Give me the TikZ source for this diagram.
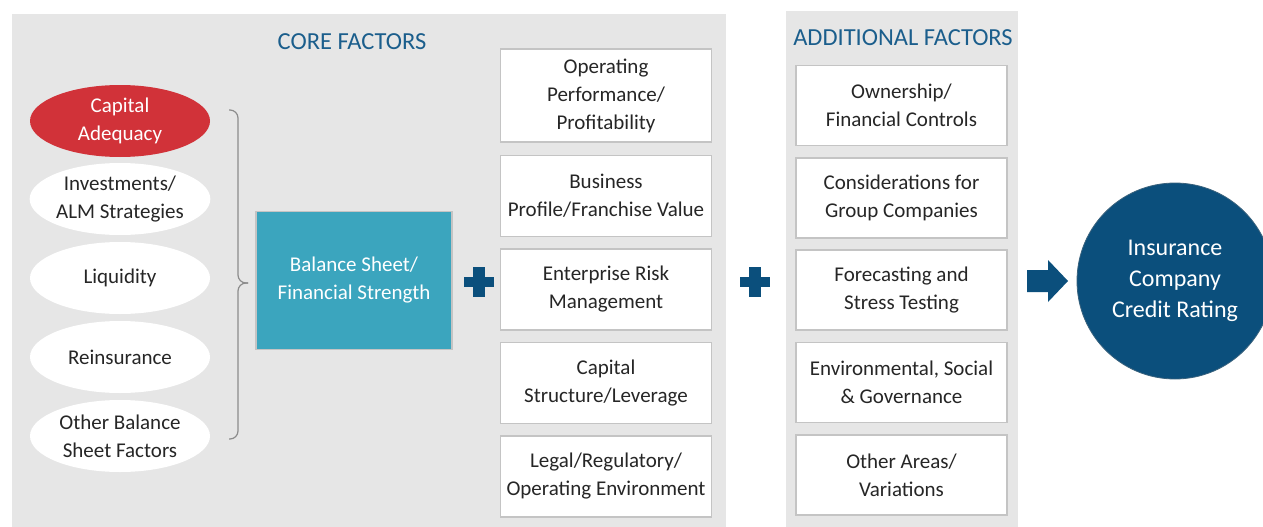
\documentclass[tikz,border=0pt]{standalone}
\usepackage{fontspec}
\setmainfont{Carlito}
\usepackage{xcolor}
\usetikzlibrary{shapes.geometric}

\definecolor{panelgrey}{HTML}{E6E6E6}
\definecolor{boxline}{HTML}{C4C4C4}
\definecolor{capred}{HTML}{D13239}
\definecolor{balteal}{HTML}{3BA5BE}
\definecolor{ratingblue}{HTML}{0B4F7C}
\definecolor{titleblue}{HTML}{1B5E8C}
\definecolor{textgrey}{HTML}{262626}
\definecolor{bracegrey}{HTML}{8C8C8C}

\begin{document}
\begin{tikzpicture}[x=1pt, y=-1pt,
    txt/.style={text=textgrey, align=center, font=\fontsize{21}{28}\selectfont},
    factor/.style={txt, ellipse, fill=white, minimum width=180pt, minimum height=72pt, inner sep=0pt},
    factorbox/.style={txt, draw=boxline, line width=1.5pt, fill=white, minimum width=211pt, minimum height=81pt, inner sep=0pt},
    title/.style={text=titleblue, font=\fontsize{24.5}{28}\selectfont}]
    \useasboundingbox (0,0) rectangle (1263,527);

    % grey panels for the two groups
    \fill[panelgrey] (12,14) rectangle (726,527);
    \fill[panelgrey] (786,11) rectangle (1018,527);
    \node[title] (core) at (352,42) {CORE FACTORS};
    \node[title] (extra) at (903,38) {ADDITIONAL FACTORS};

    % balance sheet factors
    \node[factor, fill=capred, text=white] (capital) at (120,121) {Capital\\Adequacy};
    \node[factor] (invest) at (120,199) {Investments/\\ALM Strategies};
    \node[factor] (liquid) at (120,278) {Liquidity};
    \node[factor] (reins) at (120,357) {Reinsurance};
    \node[factor] (other) at (120,436) {Other Balance\\Sheet Factors};

    % brace
    \draw[bracegrey, line width=1.2pt, rounded corners=8pt]
        (229,110) -| (238,283) -- (248,283);
    \draw[bracegrey, line width=1.2pt, rounded corners=8pt]
        (229,439) -| (238,283) -- (248,283);

    \node[txt, text=white, fill=balteal, draw=boxline, line width=1.5pt,
        minimum width=196pt, minimum height=138pt] (balance) at (354,280.5)
        {Balance Sheet/\\Financial Strength};

    % plus signs
    \foreach \x in {479,755} {
        \fill[ratingblue] (\x-15,277) rectangle (\x+15,287);
        \fill[ratingblue] (\x-6,267) rectangle (\x+6,297);
    }

    % other core factors
    \node[factorbox, minimum height=93pt] (operating) at (606,95.5)
        {Operating\\Performance/\\Profitability};
    \node[factorbox] (business) at (606,196) {Business\\Profile/Franchise Value};
    \node[factorbox] (erm) at (606,289.5) {Enterprise Risk\\Management};
    \node[factorbox] (capstruct) at (606,383) {Capital\\Structure/Leverage};
    \node[factorbox] (legal) at (606,476.5) {Legal/Regulatory/\\Operating Environment};

    % additional factors
    \node[factorbox, minimum height=80pt] (owner) at (901.5,105.5) {Ownership/\\Financial Controls};
    \node[factorbox, minimum height=80pt] (group) at (901.5,198) {Considerations for\\Group Companies};
    \node[factorbox, minimum height=80pt] (stress) at (901.5,290) {Forecasting and\\Stress Testing};
    \node[factorbox, minimum height=80pt] (esg) at (901.5,382.5) {Environmental, Social\\\& Governance};
    \node[factorbox, minimum height=80pt] (areas) at (901.5,475) {Other Areas/\\Variations};

    % arrow and rating
    \fill[ratingblue] (1027,270) -- (1048,270) -- (1048,260) -- (1068,281)
        -- (1048,302) -- (1048,292) -- (1027,292) -- cycle;
    \node[circle, fill=ratingblue, draw=ratingblue!60!gray, line width=0.8pt,
        minimum size=196pt, inner sep=0pt, text=white, align=center,
        font=\fontsize{24}{31}\selectfont] (rating) at (1175,281)
        {Insurance\\Company\\Credit Rating};
\end{tikzpicture}
\end{document}
